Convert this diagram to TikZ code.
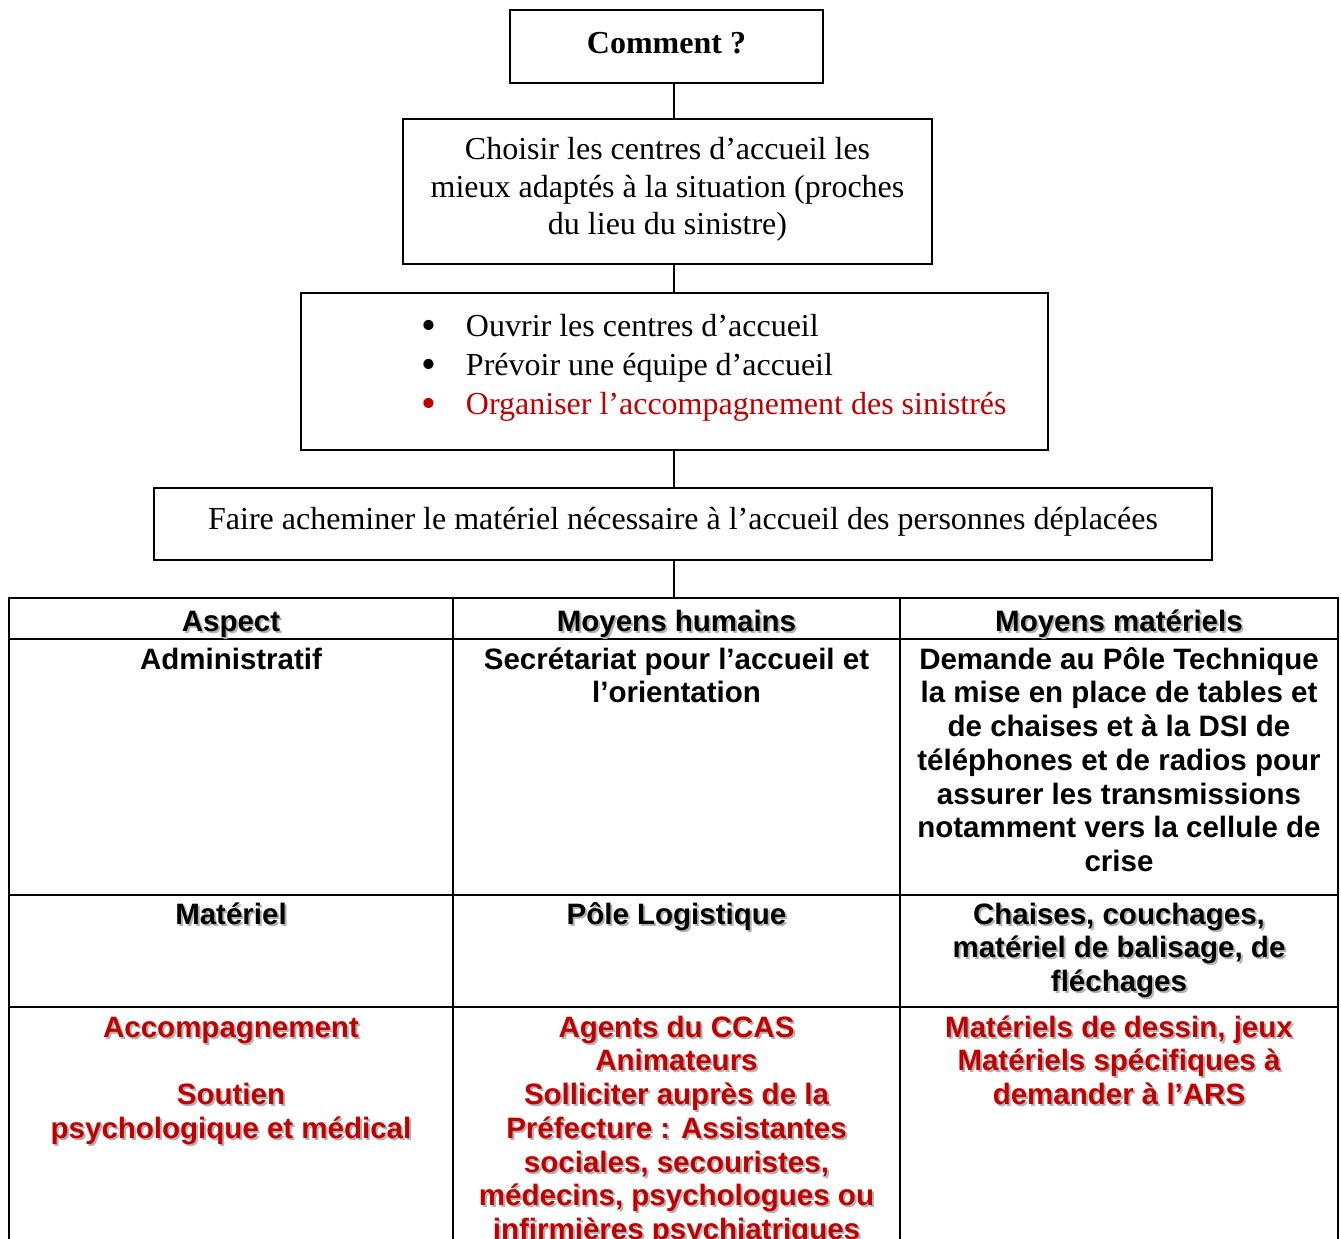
\documentclass[tikz,border=0pt]{standalone}
\usepackage{fontspec}
\setmainfont{Liberation Serif}
\newfontfamily\arialfont{Liberation Sans}
\definecolor{alertred}{RGB}{192,0,0}

\newcommand{\listdot}{\hspace*{48.4pt}\makebox[17.6pt][l]{\smash{\raisebox{-1.2pt}{\fontsize{17}{17}\selectfont\textbullet}}}}
\newcommand{\shadowcell}[5]{%
  \node[cell, text=black!30, xshift=0.8pt, yshift=-0.8pt] (#1-shadow) at (#2,#3) {#5};
  \node[cell, text=#4] (#1) at (#2,#3) {#5};}

\begin{document}
\begin{tikzpicture}[x=0.4pt, y=-0.4pt,
  box/.style={draw, line width=0.6pt, inner sep=0pt, align=center,
    font=\fontsize{12.8}{15}\selectfont},
  cell/.style={anchor=north, inner sep=0pt, align=center,
    font=\arialfont\bfseries\fontsize{11.8}{13.5}\selectfont},
  rule/.style={line width=0.9pt, line cap=rect}]

\useasboundingbox (0,0) rectangle (1341,1239);
\clip (0,0) rectangle (1341,1239);

\coordinate (spine) at (674,0);
\coordinate (tabletop) at (674,598);

\node[box, minimum width=125.2pt, minimum height=29.2pt, text depth=3.2pt] (comment) at (666.5,46.5)
  {\textbf{Comment ?}};
\node[box, minimum width=211.6pt, minimum height=58pt, text depth=4.4pt] (choose) at (667.5,191.5)
  {Choisir les centres d’accueil les\\ mieux adaptés à la situation (proches\\ du lieu du sinistre)};
\node[box, minimum width=298.8pt, minimum height=62.8pt, text width=298.8pt, align=flush left,
  font=\fontsize{12.8}{15.6}\selectfont] (open) at (674.5,371.5)
  {\listdot Ouvrir les centres d’accueil\\
   \listdot Prévoir une équipe d’accueil\\
   \textcolor{alertred}{\listdot Organiser l’accompagnement des sinistrés}\rule[-5.4pt]{0pt}{0pt}};
\node[box, minimum width=423.2pt, minimum height=28.8pt, text depth=4.4pt] (convey) at (683,524)
  {Faire acheminer le matériel nécessaire à l’accueil des personnes déplacées};

\draw[line width=0.6pt] (comment.south -| spine) -- (choose.north -| spine);
\draw[line width=0.6pt] (choose.south -| spine) -- (open.north -| spine);
\draw[line width=0.6pt] (open.south -| spine) -- (convey.north -| spine);
\draw[line width=0.6pt] (convey.south -| spine) -- (tabletop);

\foreach \x in {9,453,900,1338}
  \draw[rule] (\x,598) -- (\x,1250);
\foreach \y in {598,639,895,1007}
  \draw[rule] (9,\y) -- (1338,\y);

\shadowcell{aspect}{231}{607}{black}{\strut Aspect}
\shadowcell{humans}{676.5}{607}{black}{\strut Moyens humains}
\shadowcell{tools}{1119}{607}{black}{\strut Moyens matériels}

\node[cell] (admin) at (231,645) {\strut Administratif};
\node[cell] (admin-humans) at (676.5,645) {\strut Secrétariat pour l’accueil et\\ l’orientation};
\node[cell] (admin-tools) at (1119,645)
  {\strut Demande au Pôle Technique\\ la mise en place de tables et\\ de chaises et à la DSI de\\
   téléphones et de radios pour\\ assurer les transmissions\\ notamment vers la cellule de\\ crise};

\shadowcell{gear}{231}{900}{black}{\strut Matériel}
\shadowcell{gear-humans}{676.5}{900}{black}{\strut Pôle Logistique}
\shadowcell{gear-tools}{1119}{900}{black}{\strut Chaises, couchages,\\ matériel de balisage, de\\ fléchages}

\shadowcell{care}{231}{1013}{alertred}{\strut Accompagnement\\[13.5pt] Soutien\\ psychologique et médical}
\shadowcell{care-humans}{676.5}{1013}{alertred}
  {\strut Agents du CCAS\\ Animateurs\\ Solliciter auprès de la\\ Préfecture : Assistantes\\
   sociales, secouristes,\\ médecins, psychologues ou\\ infirmières psychiatriques}
\shadowcell{care-tools}{1119}{1013}{alertred}
  {\strut Matériels de dessin, jeux\\ Matériels spécifiques à\\ demander à l’ARS}
\end{tikzpicture}
\end{document}
